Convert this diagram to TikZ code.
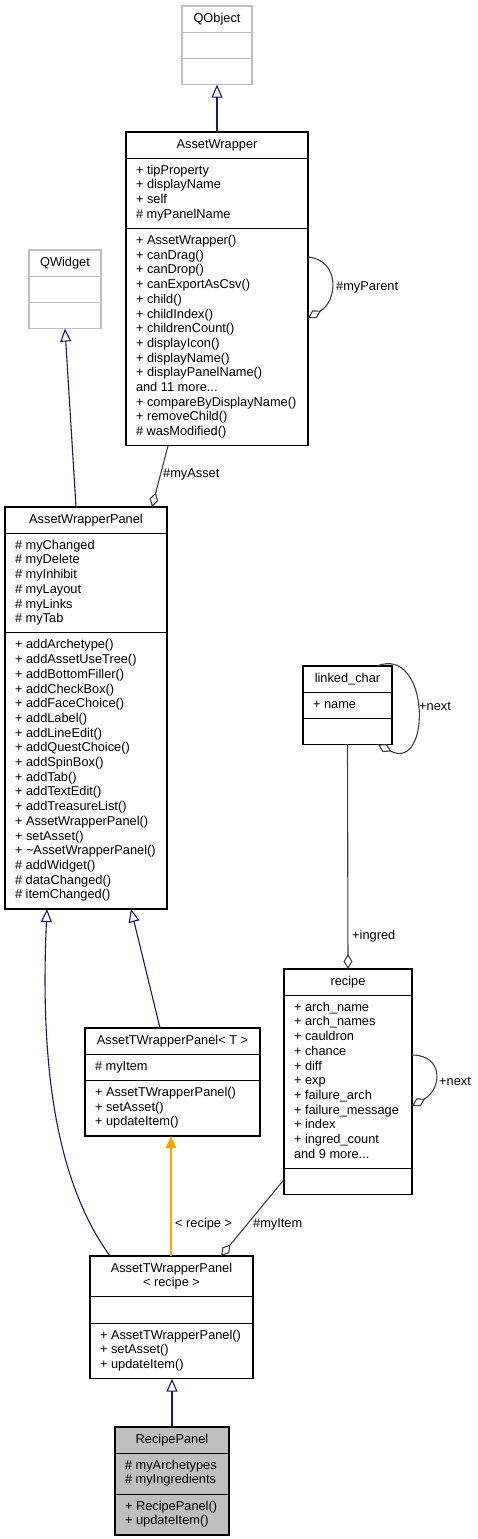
\documentclass[tikz,border=0pt]{standalone}
\usepackage{fontspec}
\setmainfont{Liberation Sans}
\usetikzlibrary{shapes.multipart,arrows.meta}
\definecolor{edgeblue}{HTML}{191970}
\definecolor{aggrgrey}{HTML}{404040}
\definecolor{qtgrey}{HTML}{BFBFBF}
\definecolor{curfill}{HTML}{BFBFBF}
\definecolor{tplorange}{HTML}{FFA500}
\newcommand{\umlfont}{\fontsize{12.8}{14.7}\selectfont}
\newcommand{\mlist}[1]{\begin{tabular}{@{}l@{}}#1\end{tabular}}
\tikzset{
  umlbox/.style={rectangle split, rectangle split parts=3, draw=black, line width=1.1pt,
    inner xsep=10pt, inner ysep=5.2pt, outer sep=0pt, anchor=north west,
    rectangle split part align={center,left,left}, font=\umlfont},
  qtbox/.style={umlbox, draw=qtgrey},
  inherit/.style={draw=edgeblue, line width=1.1pt, -{Triangle[open,length=13pt,width=11pt]}},
  aggr/.style={draw=aggrgrey, line width=1.1pt, -{Diamond[open,length=15pt,width=9pt]}},
  templ/.style={draw=tplorange, line width=1.8pt, -{Triangle[length=12pt,width=10pt,fill=tplorange]}},
  edgelbl/.style={font=\umlfont, anchor=west, inner sep=0pt}
}
\begin{document}
\begin{tikzpicture}[x=1pt,y=-1pt]
\useasboundingbox (0,0) rectangle (477,1539);

% classes
\node[qtbox, minimum width=70pt] (qobject) at (182,6) {\strut QObject \nodepart{two}\strut \nodepart{three}\strut};
\node[umlbox, minimum width=182pt] (aw) at (126,132) {\strut AssetWrapper
  \nodepart{two}\mlist{+ tipProperty\\+ displayName\\+ self\\\# myPanelName}
  \nodepart{three}\mlist{+ AssetWrapper()\\+ canDrag()\\+ canDrop()\\+ canExportAsCsv()\\+ child()\\+ childIndex()\\+ childrenCount()\\+ displayIcon()\\+ displayName()\\+ displayPanelName()\\and 11 more...\\+ compareByDisplayName()\\+ removeChild()\\\# wasModified()}};
\node[qtbox, minimum width=72pt] (qwidget) at (29,250) {\strut QWidget \nodepart{two}\strut \nodepart{three}\strut};
\node[umlbox, minimum width=162pt] (awp) at (5,507) {\strut AssetWrapperPanel
  \nodepart{two}\mlist{\# myChanged\\\# myDelete\\\# myInhibit\\\# myLayout\\\# myLinks\\\# myTab}
  \nodepart{three}\mlist{+ addArchetype()\\+ addAssetUseTree()\\+ addBottomFiller()\\+ addCheckBox()\\+ addFaceChoice()\\+ addLabel()\\+ addLineEdit()\\+ addQuestChoice()\\+ addSpinBox()\\+ addTab()\\+ addTextEdit()\\+ addTreasureList()\\+ AssetWrapperPanel()\\+ setAsset()\\+ \textasciitilde AssetWrapperPanel()\\\# addWidget()\\\# dataChanged()\\\# itemChanged()}};
\node[umlbox, minimum width=89pt] (lc) at (303,666) {\strut linked\_char
  \nodepart{two}\mlist{+ name}
  \nodepart{three}\strut};
\node[umlbox, minimum width=128pt] (recipe) at (284,969) {\strut recipe
  \nodepart{two}\mlist{+ arch\_name\\+ arch\_names\\+ cauldron\\+ chance\\+ diff\\+ exp\\+ failure\_arch\\+ failure\_message\\+ index\\+ ingred\_count\\and 9 more...}
  \nodepart{three}\strut};
\node[umlbox, minimum width=175pt] (atwpT) at (85,1028) {\strut AssetTWrapperPanel< T >
  \nodepart{two}\mlist{\# myItem}
  \nodepart{three}\mlist{+ AssetTWrapperPanel()\\+ setAsset()\\+ updateItem()}};
\node[umlbox, minimum width=163pt] (atwpR) at (90,1256) {\begin{tabular}{@{}c@{}}AssetTWrapperPanel\hspace{18pt}\\< recipe >\end{tabular}
  \nodepart{two}\strut
  \nodepart{three}\mlist{+ AssetTWrapperPanel()\\+ setAsset()\\+ updateItem()}};
\node[umlbox, fill=curfill, minimum width=114pt] (rp) at (115,1427) {\strut RecipePanel
  \nodepart{two}\mlist{\# myArchetypes\\\# myIngredients}
  \nodepart{three}\mlist{+ RecipePanel()\\+ updateItem()}};

% inheritance
\draw[inherit] (aw.north) -- (qobject.south);
\draw[inherit] ([xshift=-10pt]awp.north) -- (qwidget.south);
\draw[inherit] ([xshift=-12.5pt]atwpT.north) -- ([xshift=45pt]awp.south);
\draw[inherit] ([xshift=20pt]atwpR.north west) .. controls +(-55,-76) and +(-7,154) .. ([xshift=42pt]awp.south west);
\draw[inherit] (rp.north) -- (rp.north |- atwpR.south);
\draw[templ] ([xshift=-0.5pt]atwpR.north) -- ([xshift=-0.5pt]atwpR.north |- atwpT.south);

% usage
\draw[aggr] ([xshift=42pt]aw.south west) -- ([xshift=147pt]awp.north west);
\draw[aggr] ([yshift=-125pt]aw.north east) .. controls +(32,3) and +(30,-17) .. ([yshift=-186pt]aw.north east);
\draw[aggr] (lc.south) -- (recipe.north);
\draw[aggr] ([xshift=-15pt]lc.north east) .. controls +(53,-21) and +(54,28) .. ([xshift=-14pt]lc.south east);
\draw[aggr] ([yshift=-86pt]recipe.north east) .. controls +(32,0) and +(30,-17) .. ([yshift=-137pt]recipe.north east);
\draw[aggr] ([yshift=15pt]recipe.south west) -- ([xshift=131pt]atwpR.north west);

% edge labels
\node[edgelbl] (lblasset) at (163,474) {\#myAsset};
\node[edgelbl] (lblparent) at (336,287) {\#myParent};
\node[edgelbl] (lblingred) at (352,936) {+ingred};
\node[edgelbl] (lblnext1) at (419,706) {+next};
\node[edgelbl] (lblnext2) at (439,1081) {+next};
\node[edgelbl] (lblrecipe) at (175,1224) {< recipe >};
\node[edgelbl] (lblitem) at (253,1224) {\#myItem};
\end{tikzpicture}
\end{document}
